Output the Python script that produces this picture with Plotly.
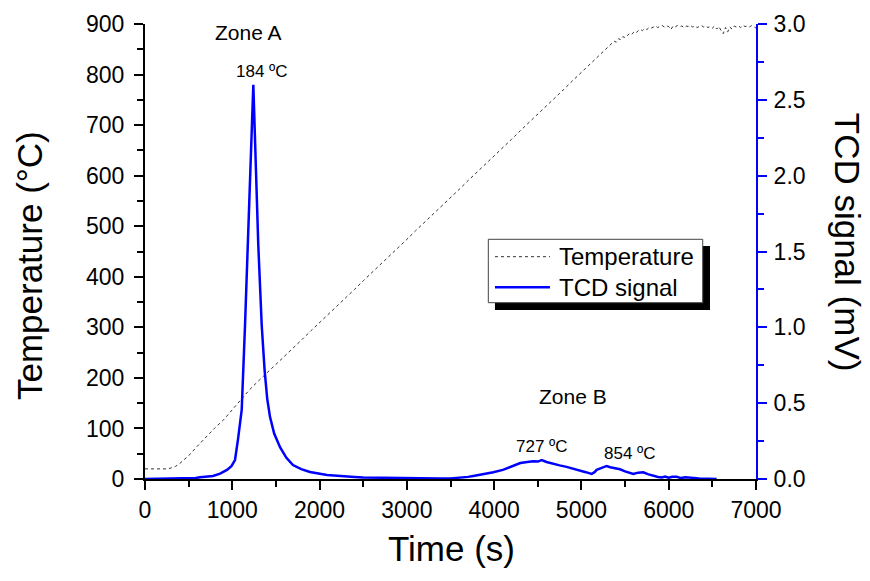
import plotly.graph_objects as go

# ---------------- data ----------------
temp_time = [0, 100, 200, 260, 300, 350, 400, 500, 600, 700, 800, 900, 1000, 1100, 1200, 1300, 1400,
             1500, 1600, 1700, 1800, 1900, 2000, 2100, 2200, 2300, 2400, 2500, 2600, 2700,
             2800, 2900, 3000, 3100, 3200, 3300, 3400, 3500, 3600, 3700, 3800, 3900, 4000,
             4100, 4200, 4300, 4400, 4500, 4600, 4700, 4800, 4900, 5000, 5100, 5200, 5300,
             5325, 5350, 5375, 5400, 5425, 5450, 5475, 5500, 5525, 5550, 5575, 5600, 5625,
             5650, 5675, 5700, 5725, 5750, 5775, 5800, 5825, 5850, 5875, 5900, 5925, 5950,
             5975, 6000, 6025, 6050, 6075, 6100, 6125, 6150, 6175, 6200, 6225, 6250, 6275,
             6300, 6325, 6350, 6375, 6400, 6425, 6450, 6475, 6500, 6525, 6550, 6575, 6600,
             6625, 6650, 6675, 6700, 6725, 6750, 6775, 6800, 6825, 6850, 6875, 6900, 6925,
             6950, 6975, 7000]
temp_values = [20, 20, 20, 20, 22, 25, 31, 46, 65, 84, 101, 117, 137, 158, 177, 194, 210,
               227, 243, 260, 276, 293, 309, 326, 342, 359, 375, 392, 408, 425,
               441, 458, 474, 491, 507, 524, 540, 557, 573, 590, 606, 623, 639,
               656, 672, 689, 705, 722, 738, 755, 771, 788, 804, 821, 837, 853,
               858, 862, 866, 864, 871, 869, 875, 873, 878, 881, 879, 884, 882,
               887, 889, 887, 891, 889, 893, 892, 894, 896, 893, 895, 897, 894,
               896, 895, 889, 896, 894, 897, 895, 896, 893, 896, 895, 897, 894,
               896, 893, 895, 897, 894, 896, 893, 895, 892, 896, 890, 895, 887,
               881, 893, 884, 894, 890, 896, 894, 896, 893, 897, 895, 896, 894,
               897, 895, 892]

tcd_time = [0, 300, 500, 580, 630, 700, 779, 860, 939, 990, 1031, 1065, 1085, 1108, 1146,
            1177, 1210, 1241, 1270, 1298, 1337, 1370, 1400, 1432, 1480, 1547, 1620, 1695,
            1790, 1890, 2085, 2200, 2300, 2400, 2500, 2650, 2800, 3000, 3200, 3380, 3500,
            3609, 3700, 3761, 3850, 3990, 4100, 4200, 4258, 4300, 4380, 4445, 4500, 4545,
            4600, 4674, 4750, 4830, 4903, 4980, 5050, 5117, 5150, 5175, 5220, 5250, 5289,
            5330, 5404, 5442, 5500, 5594, 5650, 5709, 5760, 5823, 5877, 5920, 5960, 6000,
            6040, 6091, 6140, 6190, 6240, 6278, 6350, 6450, 6549]
tcd_values = [0.0, 0.001, 0.003, 0.006, 0.011, 0.013, 0.02, 0.035, 0.06, 0.085, 0.125, 0.26,
              0.35, 0.455, 1.015, 1.54, 2.07, 2.6, 2.06, 1.54, 1.015, 0.72, 0.53, 0.41, 0.3,
              0.21, 0.14, 0.092, 0.065, 0.046, 0.026, 0.02, 0.016, 0.013, 0.01, 0.008, 0.006,
              0.004, 0.003, 0.003, 0.004, 0.008, 0.014, 0.02, 0.028, 0.044, 0.06, 0.085, 0.099,
              0.105, 0.112, 0.117, 0.115, 0.125, 0.112, 0.099, 0.09, 0.08, 0.07, 0.057, 0.045,
              0.033, 0.045, 0.06, 0.07, 0.08, 0.086, 0.078, 0.07, 0.064, 0.05, 0.033, 0.042,
              0.044, 0.032, 0.02, 0.013, 0.01, 0.016, 0.008, 0.015, 0.015, 0.006, 0.012, 0.008,
              0.008, 0.004, 0.002, 0.0]

x_ticks = [0, 1000, 2000, 3000, 4000, 5000, 6000, 7000]
temp_ticks = [0, 100, 200, 300, 400, 500, 600, 700, 800, 900]
tcd_ticks = [0.0, 0.5, 1.0, 1.5, 2.0, 2.5, 3.0]
tcd_tick_labels = ["0.0", "0.5", "1.0", "1.5", "2.0", "2.5", "3.0"]
series_names = ["Temperature", "TCD signal"]

FONT = "Liberation Sans, Arial, sans-serif"
TEMP_LINE = dict(color="#333333", width=1, dash="dot")
TCD_LINE = dict(color="#0000ff", width=2.5)

fig = go.Figure()
fig.add_trace(go.Scatter(x=temp_time, y=temp_values, mode="lines", name=series_names[0],
                         line=TEMP_LINE, yaxis="y", showlegend=False))
fig.add_trace(go.Scatter(x=tcd_time, y=tcd_values, mode="lines", name=series_names[1],
                         line=TCD_LINE, yaxis="y2", showlegend=False))

axis_common = dict(showgrid=False, zeroline=False, showline=True, linewidth=2,
                   ticks="outside", ticklen=9, tickwidth=2, automargin=False,
                   tickfont=dict(family=FONT, size=23, color="black"))

# page body adds an 8 px offset; margins compensate so the plot area sits at
# x 145..756, y 24..479 in the window
fig.update_layout(
    width=870, height=581,
    margin=dict(l=137, r=122, t=16, b=110, autoexpand=False),
    paper_bgcolor="white", plot_bgcolor="white",
    font=dict(family=FONT, color="black"),
    showlegend=False,
    xaxis=dict(range=[0, 7000], tickvals=x_ticks, linecolor="black", tickcolor="black",
               minor=dict(dtick=500, ticklen=6, tickwidth=2, ticks="outside", tickcolor="black"),
               **axis_common),
    yaxis=dict(range=[0, 900], tickvals=temp_ticks, linecolor="black", tickcolor="black",
               ticklabelstandoff=5,
               minor=dict(dtick=50, ticklen=6, tickwidth=2, ticks="outside", tickcolor="black"),
               **axis_common),
    yaxis2=dict(range=[0, 3.0], tickvals=tcd_ticks, ticktext=tcd_tick_labels,
                overlaying="y", side="right", linecolor="#0000ff", tickcolor="#0000ff",
                ticklabelstandoff=2,
                minor=dict(dtick=0.25, ticklen=6, tickwidth=2, ticks="outside", tickcolor="#0000ff"),
                **axis_common),
)

# ---- legend box with drop shadow ----
fig.add_shape(type="rect", xref="paper", yref="paper",
              x0=0.5728, x1=0.9247, y0=0.3714, y1=0.5121,
              fillcolor="black", line=dict(width=0), layer="above")
fig.add_shape(type="rect", xref="paper", yref="paper",
              x0=0.5619, x1=0.9128, y0=0.3875, y1=0.5268,
              fillcolor="white", line=dict(color="#444444", width=1), layer="above")
legend_rows = [(series_names[0], TEMP_LINE, 0.4886), (series_names[1], TCD_LINE, 0.4213)]
for name, ln, yy in legend_rows:
    fig.add_shape(type="line", xref="paper", yref="paper", x0=0.5728, x1=0.6628,
                  y0=yy, y1=yy, line=ln, layer="above")
    fig.add_annotation(text=name, xref="paper", yref="paper", x=0.6740, y=yy,
                       xanchor="left", yanchor="middle", showarrow=False,
                       font=dict(family=FONT, size=24, color="black"))

# axis titles
fig.add_annotation(text="Time (s)", xref="paper", yref="paper", x=0.502, y=-0.152,
                   xanchor="center", yanchor="middle", showarrow=False,
                   font=dict(family=FONT, size=35, color="black"))
fig.add_annotation(text="Temperature (°C)", xref="paper", yref="paper", x=-0.19, y=0.47,
                   xanchor="center", yanchor="middle", showarrow=False, textangle=-90,
                   font=dict(family=FONT, size=35, color="black"))
fig.add_annotation(text="TCD signal (mV)", xref="paper", yref="paper", x=1.15, y=0.52,
                   xanchor="center", yanchor="middle", showarrow=False, textangle=90,
                   font=dict(family=FONT, size=35, color="black"))

# zone labels
for txt, xv, yv, sz in [("Zone A", 1190, 883, 21), ("184 ºC", 1335, 806, 17),
                        ("Zone B", 4898, 164, 21), ("727 ºC", 4545, 64, 17),
                        ("854 ºC", 5554, 51, 17)]:
    fig.add_annotation(text=txt, x=xv, y=yv, xref="x", yref="y", showarrow=False,
                       xanchor="center", yanchor="middle",
                       font=dict(family=FONT, size=sz, color="black"))

fig.write_html("out.html")
